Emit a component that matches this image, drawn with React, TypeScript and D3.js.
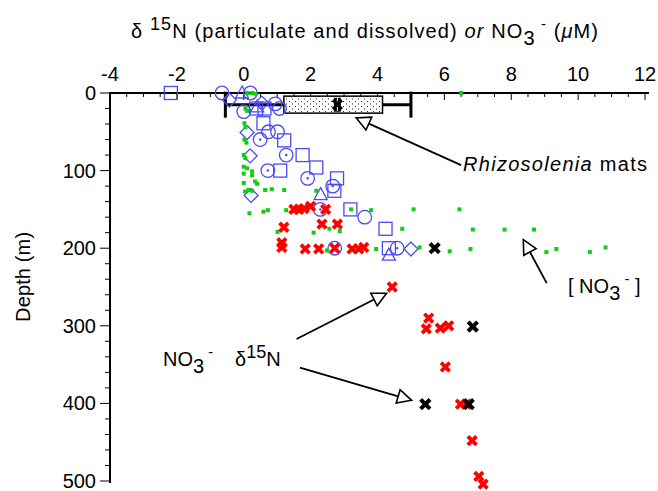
import React, { useEffect, useRef } from "react";
import * as d3 from "d3";

// [delta15N or NO3 value, depth m]
const circles = [
  [-0.65, 0], [0.2, 0], [0.0, 24], [0.94, 14], [1.07, 20], [0.74, 50], [1.01, 50],
  [3.62, 160], [2.72, 200],
];
const dottedCircles = [
  [0.49, 60], [1.27, 80], [0.72, 100], [1.91, 110], [2.66, 120], [2.29, 150], [4.59, 200],
];
const squares = [
  [-2.18, 0], [0.37, 20], [0.62, 20], [0.59, 39], [1.21, 61], [1.76, 80], [1.09, 100],
  [2.17, 96], [2.79, 110], [2.71, 126], [3.19, 150], [4.24, 175], [4.34, 200],
];
const diamonds = [
  [-0.43, 9], [0.54, 13], [0.1, 51], [0.19, 81], [0.22, 132], [5.0, 201],
];
const triangles = [
  [-0.05, 0], [0.4, 18], [2.3, 131], [4.34, 209],
];
const nitrate = [
  [0.1, 0], [0.25, 0], [0.35, 1], [6.5, 0],
  [0.05, 20], [0.1, 23], [0.02, 39], [0.05, 44], [0.02, 60], [0.08, 64],
  [0.0, 80], [0.05, 84], [0.0, 95], [0.1, 97], [0.25, 101], [0.0, 104], [0.25, 106],
  [0.0, 116], [0.34, 114], [0.4, 117], [0.04, 127], [0.14, 125], [0.25, 126],
  [0.64, 125], [0.84, 124], [1.21, 125], [2.17, 126],
  [0.17, 155], [0.59, 153], [0.72, 151], [1.27, 151], [3.21, 150], [3.81, 151],
  [5.08, 150], [6.45, 150],
  [1.01, 179], [2.09, 180], [2.56, 175], [2.87, 178], [4.74, 175], [6.85, 176],
  [7.8, 176], [8.68, 176],
  [2.49, 203], [3.96, 201], [5.26, 199], [6.16, 204], [6.78, 201], [9.05, 205],
  [9.35, 201], [10.35, 205], [10.82, 199],
];
const nitrateD15N = [
  [1.5, 150], [1.65, 150], [1.8, 149], [2.0, 146], [2.45, 150],
  [1.2, 173], [2.34, 169], [2.8, 169],
  [1.14, 193], [1.14, 199], [1.84, 201], [2.24, 201], [2.72, 200], [3.24, 201],
  [3.44, 201], [3.59, 199],
  [4.44, 250], [5.53, 290], [5.46, 304], [5.88, 303], [6.13, 300], [6.03, 353],
  [6.48, 401], [6.66, 401], [6.83, 448], [7.03, 494], [7.16, 504],
];
const nitrateD15NOther = [
  [5.71, 200], [6.85, 301], [5.43, 401], [6.73, 401],
];
const mats = { min: -0.55, q1: 1.2, median: 2.8, q3: 4.15, max: 5.0, depth: 15 };

const xTicks = [-4, -2, 0, 2, 4, 6, 8, 10, 12];
const yTicks = [0, 100, 200, 300, 400, 500];

// annotation arrows: [from, tip] in data space
const arrows = [
  [[6.5, 93], [3.36, 32]],
  [[9.06, 245], [8.36, 189]],
  [[1.58, 317], [4.27, 258]],
  [[1.68, 354], [5.02, 396]],
];

const FONT = "'Liberation Sans', Arial, Helvetica, sans-serif";
const BLUE = "#4b4bf5";

export default function App() {
  const svgRef = useRef(null);

  useEffect(() => {
    const width = 658;
    const height = 491;
    const svg = d3.select(svgRef.current);
    svg.selectAll("*").remove();
    svg.attr("width", width).attr("height", height);

    const x = d3.scaleLinear().domain([-4, 12]).range([110, 645]);
    const y = d3.scaleLinear().domain([0, 500]).range([93, 481]);

    const defs = svg.append("defs");
    const pat = defs.append("pattern")
      .attr("id", "stipple")
      .attr("width", 6)
      .attr("height", 5)
      .attr("patternUnits", "userSpaceOnUse");
    pat.append("rect").attr("width", 6).attr("height", 5).attr("fill", "white");
    pat.append("rect").attr("x", 1).attr("y", 1).attr("width", 1).attr("height", 1).attr("fill", "#222");
    pat.append("rect").attr("x", 4).attr("y", 3.5).attr("width", 1).attr("height", 1).attr("fill", "#222");

    // axes
    const axis = svg.append("g").attr("stroke", "black");
    axis.append("line")
      .attr("x1", x(-4)).attr("x2", x(12) + 4)
      .attr("y1", y(0)).attr("y2", y(0))
      .attr("stroke-width", 2);
    axis.append("line")
      .attr("x1", x(-4)).attr("x2", x(-4))
      .attr("y1", y(0) - 1).attr("y2", y(500) + 2)
      .attr("stroke-width", 2);

    axis.selectAll(".xminor")
      .data(d3.range(-4, 12.01, 0.5))
      .enter().append("line")
      .attr("x1", d => x(d)).attr("x2", d => x(d))
      .attr("y1", y(0)).attr("y2", d => y(0) + (d % 2 === 0 ? 7 : 4))
      .attr("stroke-width", 1);

    axis.selectAll(".yminor")
      .data(d3.range(0, 500.1, 20))
      .enter().append("line")
      .attr("x1", x(-4)).attr("x2", d => x(-4) - (d % 100 === 0 ? 10 : 5))
      .attr("y1", d => y(d)).attr("y2", d => y(d))
      .attr("stroke-width", 1);

    svg.append("g").selectAll("text")
      .data(xTicks)
      .enter().append("text")
      .attr("x", d => x(d))
      .attr("y", 81)
      .attr("text-anchor", "middle")
      .style("font-family", FONT)
      .style("font-size", "20px")
      .text(d => d);

    svg.append("g").selectAll("text")
      .data(yTicks)
      .enter().append("text")
      .attr("x", 96)
      .attr("y", d => y(d) + 7)
      .attr("text-anchor", "end")
      .style("font-family", FONT)
      .style("font-size", "20px")
      .text(d => d);

    // titles
    const title = svg.append("text")
      .attr("x", 131).attr("y", 38)
      .attr("textLength", 467)
      .attr("lengthAdjust", "spacing")
      .style("font-family", FONT)
      .style("font-size", "20px");
    title.append("tspan").text("δ ");
    title.append("tspan").attr("dy", -8).style("font-size", "18px").text("15");
    title.append("tspan").attr("dy", 8).text("N (particulate and dissolved) ");
    title.append("tspan").style("font-style", "italic").text("or");
    title.append("tspan").text(" NO");
    title.append("tspan").attr("dy", 7).text("3");
    title.append("tspan").attr("dy", -16).style("font-size", "15px").text(" -");
    title.append("tspan").attr("dy", 9).text(" (");
    title.append("tspan").style("font-style", "italic").text("μ");
    title.append("tspan").text("M)");

    svg.append("text")
      .attr("transform", `translate(30,${y(237)}) rotate(-90)`)
      .attr("text-anchor", "middle")
      .attr("textLength", 90)
      .attr("lengthAdjust", "spacing")
      .style("font-family", FONT)
      .style("font-size", "20px")
      .text("Depth (m)");

    // Rhizosolenia mats box
    const box = svg.append("g");
    const by = y(mats.depth);
    box.append("line")
      .attr("x1", x(mats.min)).attr("x2", x(mats.max))
      .attr("y1", by).attr("y2", by)
      .attr("stroke", "black").attr("stroke-width", 3);
    [mats.min, mats.max].forEach(v => {
      box.append("line")
        .attr("x1", x(v)).attr("x2", x(v))
        .attr("y1", by - 13).attr("y2", by + 13)
        .attr("stroke", "black").attr("stroke-width", 3);
    });
    box.append("rect")
      .attr("x", x(mats.q1)).attr("y", by - 8.5)
      .attr("width", x(mats.q3) - x(mats.q1)).attr("height", 17)
      .attr("fill", "url(#stipple)")
      .attr("stroke", "black").attr("stroke-width", 1.5);

    const xPath = (s) => `M${-s},${-s}L${s},${s}M${-s},${s}L${s},${-s}`;

    // blue particulate markers
    const blue = svg.append("g")
      .attr("fill", "none")
      .attr("stroke", BLUE)
      .attr("stroke-width", 1.3);

    blue.selectAll(".sq").data(squares).enter().append("rect")
      .attr("x", d => x(d[0]) - 6.5).attr("y", d => y(d[1]) - 6.5)
      .attr("width", 13).attr("height", 13);

    blue.selectAll(".di").data(diamonds).enter().append("path")
      .attr("transform", d => `translate(${x(d[0])},${y(d[1])})`)
      .attr("d", "M0,-7L7,0L0,7L-7,0Z");

    blue.selectAll(".tr").data(triangles).enter().append("path")
      .attr("transform", d => `translate(${x(d[0])},${y(d[1])})`)
      .attr("d", "M0,-7L6.5,5L-6.5,5Z");

    blue.selectAll(".ci").data(circles.concat(dottedCircles)).enter().append("circle")
      .attr("cx", d => x(d[0])).attr("cy", d => y(d[1]))
      .attr("r", 6.8);

    blue.selectAll(".dot").data(dottedCircles).enter().append("circle")
      .attr("cx", d => x(d[0])).attr("cy", d => y(d[1]))
      .attr("r", 0.6)
      .attr("fill", BLUE);

    // nitrate concentration
    svg.append("g").selectAll("rect").data(nitrate).enter().append("rect")
      .attr("x", d => x(d[0]) - 2).attr("y", d => y(d[1]) - 2)
      .attr("width", 4).attr("height", 4)
      .attr("fill", "#11cc11");

    // nitrate d15N
    svg.append("g").selectAll("path").data(nitrateD15N).enter().append("path")
      .attr("transform", d => `translate(${x(d[0])},${y(d[1])})`)
      .attr("d", xPath(4.3))
      .attr("stroke", "#ff0000").attr("stroke-width", 3.8);

    svg.append("g").selectAll("path").data(nitrateD15NOther).enter().append("path")
      .attr("transform", d => `translate(${x(d[0])},${y(d[1])})`)
      .attr("d", xPath(4.7))
      .attr("stroke", "black").attr("stroke-width", 4);

    box.append("path")
      .attr("transform", `translate(${x(mats.median)},${by})`)
      .attr("d", xPath(4.5) + "M-2,-7L-2,7M2,-7L2,7")
      .attr("stroke", "black").attr("stroke-width", 3);

    // arrows
    const ann = svg.append("g");
    arrows.forEach(([from, tip]) => {
      const x0 = x(from[0]), y0 = y(from[1]);
      const x1 = x(tip[0]), y1 = y(tip[1]);
      const len = Math.hypot(x1 - x0, y1 - y0);
      const ux = (x1 - x0) / len, uy = (y1 - y0) / len;
      const hl = 14, hw = 7;
      const bx = x1 - ux * hl, bY = y1 - uy * hl;
      ann.append("line")
        .attr("x1", x0).attr("y1", y0).attr("x2", bx).attr("y2", bY)
        .attr("stroke", "black").attr("stroke-width", 1.8);
      ann.append("path")
        .attr("d", `M${x1},${y1}L${bx - uy * hw},${bY + ux * hw}L${bx + uy * hw},${bY - ux * hw}Z`)
        .attr("fill", "white").attr("stroke", "black").attr("stroke-width", 1.6);
    });

    const rh = ann.append("text")
      .attr("x", 463).attr("y", 171)
      .attr("textLength", 184)
      .attr("lengthAdjust", "spacing")
      .style("font-family", FONT).style("font-size", "20px");
    rh.append("tspan").style("font-style", "italic").text("Rhizosolenia");
    rh.append("tspan").text(" mats");

    const nc = ann.append("text")
      .attr("x", 568).attr("y", 293)
      .style("font-family", FONT).style("font-size", "20px");
    nc.append("tspan").text("[ NO");
    nc.append("tspan").attr("dy", 7).text("3");
    nc.append("tspan").attr("dy", -16).style("font-size", "15px").text(" -");
    nc.append("tspan").attr("dy", 9).text(" ]");

    const n3 = ann.append("text")
      .attr("x", 163).attr("y", 366)
      .style("font-family", FONT).style("font-size", "20px");
    n3.append("tspan").text("NO");
    n3.append("tspan").attr("dy", 7).text("3");
    n3.append("tspan").attr("dy", -16).style("font-size", "15px").text(" -");

    const dn = ann.append("text")
      .attr("x", 235).attr("y", 366)
      .style("font-family", FONT).style("font-size", "20px");
    dn.append("tspan").text("δ");
    dn.append("tspan").attr("dy", -8).style("font-size", "18px").text("15");
    dn.append("tspan").attr("dy", 8).text("N");
  }, []);

  return (
    <div style={{ position: "absolute", left: 0, top: 0, background: "white" }}>
      <svg ref={svgRef}></svg>
    </div>
  );
}
